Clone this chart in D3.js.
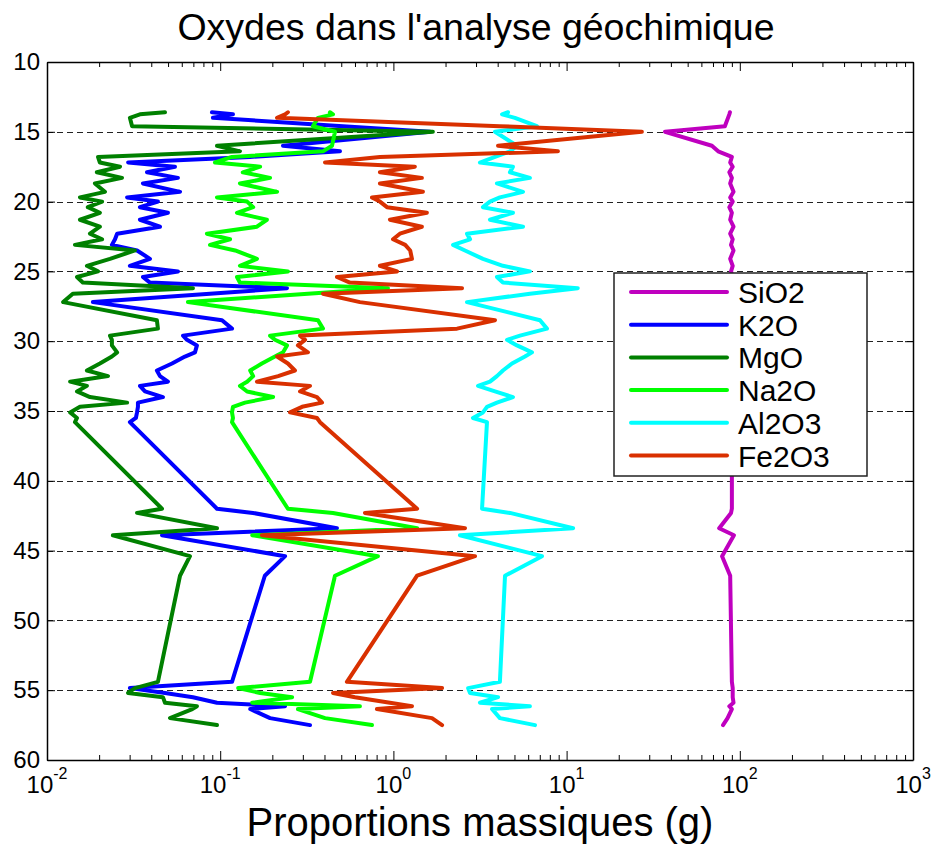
<!DOCTYPE html>
<html>
<head>
<meta charset="utf-8">
<script src="https://d3js.org/d3.v7.min.js"></script>
<style>
  body { margin: 0; background: #fff; }
  text { font-family: "Liberation Sans", Arial, Helvetica, sans-serif; fill: #000; }
</style>
</head>
<body>
<script>
// depth of each sample (m), shared by all oxides
var depth = [13.6, 13.75, 14.0, 14.6, 15.0, 16.0, 16.4, 16.8, 17.2, 17.5,
  17.9, 18.3, 18.7, 19.3, 19.7, 20.0, 20.4, 20.8, 21.3, 21.8,
  22.3, 22.7, 23.1, 23.5, 24.1, 24.6, 25.0, 25.4, 25.8, 26.2,
  26.6, 27.2, 28.5, 29.1, 29.6, 29.9, 30.3, 30.8, 31.1, 31.6,
  32.1, 32.5, 32.9, 33.2, 33.6, 34.0, 34.4, 34.7, 35.1, 35.5,
  35.8, 42.0, 42.3, 43.4, 43.9, 45.4, 46.8, 54.4, 54.85, 55.2,
  55.5, 55.9, 56.15, 56.35, 57.0, 57.5];

var sio2 = [87.7, 87, 85.5, 82, 37, 69, 75, 90, 88, 91,
  87, 90, 88, 92, 88, 91, 87, 90, 88, 92,
  88, 91, 89, 92, 88, 91, 89, 91, 89, 90,
  89, 90, 91, 90, 89, 90, 91, 90, 89, 90,
  91, 90, 90, 89, 90, 91, 90, 90, 89, 90,
  90, 90, 89, 76, 92.5, 79, 88, 90, 91, 91,
  91, 92, 87, 90, 85, 80];

var k2o = [0.0896, 0.1185, 0.0908, 0.511, 1.63, 0.2305, 0.4915, 0.1486, 0.0294, 0.0548,
  0.0378, 0.0570, 0.0358, 0.0586, 0.0290, 0.0437, 0.0344, 0.0499, 0.0344, 0.0449,
  0.0254, 0.0247, 0.0237, 0.0331, 0.0393, 0.0301, 0.0570, 0.0358, 0.0393, 0.243,
  0.0873, 0.0184, 0.1024, 0.117, 0.0610, 0.0643, 0.0734, 0.0715, 0.0626, 0.0527,
  0.0431, 0.0449, 0.0499, 0.0344, 0.0368, 0.0467, 0.0335, 0.0335, 0.0331, 0.0326,
  0.0301, 0.0958, 0.1546, 0.472, 0.0461, 0.237, 0.181, 0.117, 0.0301, 0.0480,
  0.0696, 0.0958, 0.237, 0.149, 0.194, 0.330];

var mgo = [0.0480, 0.0344, 0.0301, 0.0310, 1.69, 0.0958, 0.130, 0.0197, 0.0202, 0.0264,
  0.0194, 0.0271, 0.0189, 0.0216, 0.0155, 0.0208, 0.0172, 0.0202, 0.0155, 0.0202,
  0.0177, 0.0208, 0.0145, 0.0322, 0.0231, 0.0170, 0.0197, 0.0149, 0.0161, 0.0696,
  0.0141, 0.0124, 0.0431, 0.0437, 0.0231, 0.0237, 0.0237, 0.0254, 0.0237, 0.0202,
  0.0170, 0.0225, 0.0136, 0.0170, 0.0149, 0.0177, 0.0290, 0.0155, 0.0136, 0.0149,
  0.0145, 0.0461, 0.0331, 0.0958, 0.0240, 0.0669, 0.0586, 0.0437, 0.0322, 0.0294,
  0.0467, 0.0480, 0.0734, 0.0690, 0.0513, 0.0958];

var na2o = [0.430, 0.448, 0.367, 0.343, 0.460, 0.442, 0.392, 0.117, 0.0933, 0.170,
  0.135, 0.194, 0.130, 0.213, 0.0958, 0.143, 0.155, 0.125, 0.186, 0.163,
  0.0838, 0.114, 0.0873, 0.122, 0.163, 0.130, 0.246, 0.125, 0.130, 0.930,
  0.321, 0.0651, 0.367, 0.392, 0.194, 0.207, 0.243, 0.2305, 0.207, 0.174,
  0.149, 0.155, 0.143, 0.130, 0.143, 0.202, 0.139, 0.1185, 0.117, 0.1185,
  0.117, 0.246, 0.448, 1.37, 0.153, 0.814, 0.460, 0.330, 0.127, 0.170,
  0.260, 0.153, 0.641, 0.281, 0.403, 0.752];

var al2o3 = [4.59, 4.24, 5.03, 6.74, 3.86, 5.17, 4.71, 3.86, 3.16, 4.90,
  4.71, 6.14, 3.96, 5.60, 4.12, 3.61, 3.29, 4.90, 3.61, 5.60,
  2.66, 2.77, 2.21, 2.59, 3.29, 4.29, 6.14, 3.96, 4.29, 11.6,
  6.14, 2.66, 7.02, 7.70, 5.38, 4.53, 5.17, 6.31, 5.75, 4.84,
  4.29, 3.96, 3.61, 3.08, 3.86, 4.90, 3.96, 3.47, 3.29, 2.88,
  3.47, 3.25, 4.71, 10.9, 2.42, 7.21, 4.41, 4.12, 2.70, 2.77,
  4.02, 3.16, 6.14, 3.71, 4.12, 6.57];

var fe2o3 = [0.246, 0.237, 0.213, 4.12, 27.2, 4.02, 8.91, 0.836, 0.403, 1.33,
  0.836, 1.46, 0.836, 1.48, 0.752, 0.836, 0.918, 1.56, 0.955, 1.46,
  1.09, 0.995, 1.17, 1.25, 1.28, 0.836, 1.05, 0.472, 0.561, 2.49,
  0.392, 0.641, 3.86, 2.33, 0.289, 0.309, 0.281, 0.321, 0.213, 0.246,
  0.270, 0.216, 0.163, 0.330, 0.289, 0.362, 0.387, 0.297, 0.253, 0.362,
  0.377, 1.37, 0.685, 2.59, 0.174, 2.96, 1.37, 0.539, 1.91, 0.448,
  0.600, 0.955, 1.28, 0.803, 1.67, 1.91];

var seriesNames = ["SiO2", "K2O", "MgO", "Na2O", "Al2O3", "Fe2O3"];
var seriesColors = ["#bf00bf", "#0000ff", "#008000", "#00ff00", "#00ffff", "#d93000"];
var seriesValues = [sio2, k2o, mgo, na2o, al2o3, fe2o3];

var yTicks = [10, 15, 20, 25, 30, 35, 40, 45, 50, 55, 60];
var xDecades = [-2, -1, 0, 1, 2, 3];

var svgWidth = 933;
var svgHeight = 844;
var margin = { top: 62, right: 20, bottom: 84, left: 47 };
var width = svgWidth - margin.left - margin.right;
var height = svgHeight - margin.top - margin.bottom;

var svg = d3.select("body")
  .append("svg")
  .attr("width", svgWidth)
  .attr("height", svgHeight);

var chartGroup = svg.append("g")
  .attr("transform", `translate(${margin.left}, ${margin.top})`);

// log scale for the mass proportions, depth grows downward
var xScale = d3.scaleLog().domain([1e-2, 1e3]).range([0, width]);
var yScale = d3.scaleLinear().domain([10, 60]).range([0, height]);

// dashed horizontal grid
chartGroup.append("g")
  .selectAll("line")
  .data(yTicks)
  .enter()
  .append("line")
  .attr("x1", 0)
  .attr("x2", width)
  .attr("y1", d => Math.round(yScale(d)) + 0.5)
  .attr("y2", d => Math.round(yScale(d)) + 0.5)
  .attr("stroke", "#222")
  .attr("stroke-width", 1)
  .attr("stroke-dasharray", "6,4");

// the oxide curves
var line = d3.line()
  .x(d => xScale(d[1]))
  .y(d => yScale(d[0]));

seriesValues.forEach(function(vals, i) {
  var pts = depth.map((dp, j) => [dp, vals[j]]);
  chartGroup.append("path")
    .datum(pts)
    .attr("fill", "none")
    .attr("stroke", seriesColors[i])
    .attr("stroke-width", 4)
    .attr("stroke-linejoin", "round")
    .attr("stroke-linecap", "round")
    .attr("d", line);
});

// axes: ticks point inward like the matlab box
var majorX = xDecades.map(k => Math.pow(10, k));
var minorX = xScale.ticks().filter(v => Math.abs(Math.log10(v) - Math.round(Math.log10(v))) > 1e-6);

function styleAxis(g) {
  g.select(".domain").attr("stroke", "#000").attr("stroke-width", 1.5);
  g.selectAll(".tick line").attr("stroke", "#000").attr("stroke-width", 1);
}

var xBottomMinor = chartGroup.append("g")
  .attr("transform", `translate(0, ${height})`)
  .call(d3.axisBottom(xScale).tickValues(minorX).tickSize(-5).tickSizeOuter(0).tickFormat(""));
xBottomMinor.select(".domain").remove();
styleAxis(xBottomMinor);

var xBottom = chartGroup.append("g")
  .attr("transform", `translate(0, ${height})`)
  .call(d3.axisBottom(xScale).tickValues(majorX).tickSize(-9).tickSizeOuter(0).tickFormat(""));
styleAxis(xBottom);

var xTopMinor = chartGroup.append("g")
  .call(d3.axisTop(xScale).tickValues(minorX).tickSize(-5).tickSizeOuter(0).tickFormat(""));
xTopMinor.select(".domain").remove();
styleAxis(xTopMinor);

var xTop = chartGroup.append("g")
  .call(d3.axisTop(xScale).tickValues(majorX).tickSize(-9).tickSizeOuter(0).tickFormat(""));
styleAxis(xTop);

var yLeft = chartGroup.append("g")
  .call(d3.axisLeft(yScale).tickValues(yTicks).tickSize(-8).tickSizeOuter(0).tickPadding(7));
styleAxis(yLeft);
yLeft.selectAll(".tick text")
  .style("font-size", "24px")
  .style("font-family", "Liberation Sans, Arial, sans-serif")
  .attr("fill", "#000");

var yRight = chartGroup.append("g")
  .attr("transform", `translate(${width}, 0)`)
  .call(d3.axisRight(yScale).tickValues(yTicks).tickSize(-8).tickSizeOuter(0).tickFormat(""));
styleAxis(yRight);

// x tick labels 10^k
var xLabels = chartGroup.append("g")
  .selectAll("text")
  .data(xDecades)
  .enter()
  .append("text")
  .attr("x", d => xScale(Math.pow(10, d)))
  .attr("y", height + 33)
  .attr("text-anchor", "middle")
  .style("font-size", "24px");
xLabels.append("tspan").text("10");
xLabels.append("tspan")
  .attr("dy", -14)
  .style("font-size", "16px")
  .text(d => d);

// axis title and chart title
svg.append("text")
  .attr("x", 480)
  .attr("y", 836)
  .attr("text-anchor", "middle")
  .style("font-size", "40px")
  .text("Proportions massiques (g)");

svg.append("text")
  .attr("x", 476)
  .attr("y", 40)
  .attr("text-anchor", "middle")
  .style("font-size", "37.5px")
  .text("Oxydes dans l'analyse géochimique");

// legend
var legend = svg.append("g").attr("transform", "translate(614, 273)");
legend.append("rect")
  .attr("width", 253)
  .attr("height", 203)
  .attr("fill", "#fff")
  .attr("stroke", "#222")
  .attr("stroke-width", 1.5);

var rows = legend.selectAll(".row")
  .data(seriesNames)
  .enter()
  .append("g")
  .attr("class", "row")
  .attr("transform", (d, i) => `translate(0, ${19 + i * 32.7})`);

rows.append("line")
  .attr("x1", 17)
  .attr("x2", 113)
  .attr("stroke", (d, i) => seriesColors[i])
  .attr("stroke-width", 4)
  .attr("stroke-linecap", "round");

rows.append("text")
  .attr("x", 124)
  .attr("y", 11)
  .style("font-size", "30px")
  .text(d => d);
</script>
</body>
</html>
